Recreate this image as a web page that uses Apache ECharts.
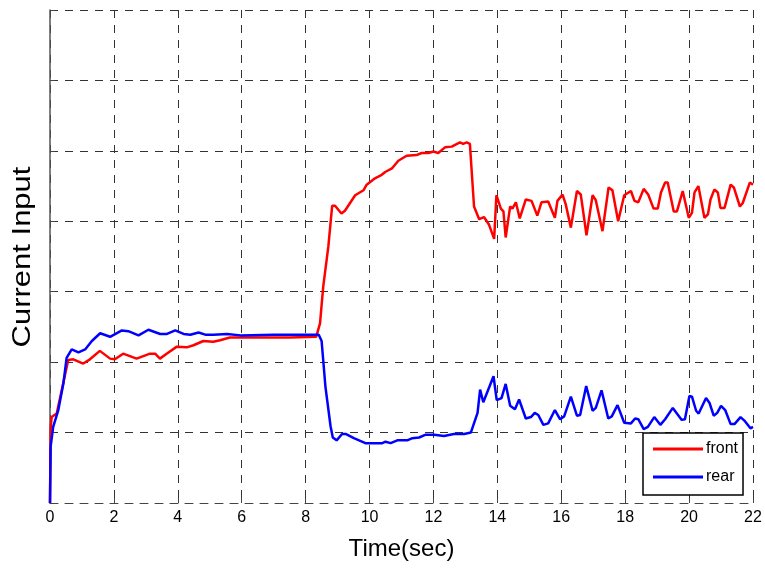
<!DOCTYPE html>
<html>
<head>
<meta charset="utf-8">
<script src="https://cdn.jsdelivr.net/npm/echarts@6/dist/echarts.min.js"></script>
<style>html,body{margin:0;padding:0;background:#fff}#c{width:765px;height:568px}</style>
</head>
<body>
<div id="c"></div>
<script>
const xTicks = [0, 2, 4, 6, 8, 10, 12, 14, 16, 18, 20, 22];
const seriesNames = ['front', 'rear'];
const yTitle = 'Current Input';
const xTitle = 'Time(sec)';

const frontT = [0, 0.02, 0.05, 0.21, 0.57, 0.73, 1.04, 1.25, 1.56, 1.88, 2.03, 2.29, 2.71, 3.13, 3.29, 3.44, 3.65, 3.97, 4.28, 4.49, 4.80, 5.11, 5.32, 5.63, 6.5, 7.5, 8.33, 8.45, 8.55, 8.71, 8.83, 8.92, 9.12, 9.23, 9.39, 9.55, 9.81, 9.91, 10.17, 10.38, 10.49, 10.70, 10.90, 11.16, 11.47, 11.63, 11.84, 12.00, 12.15, 12.36, 12.57, 12.83, 12.93, 13.04, 13.14, 13.27, 13.43, 13.58, 13.74, 13.90, 13.97, 14.11, 14.19, 14.26, 14.40, 14.47, 14.58, 14.70, 14.89, 15.07, 15.25, 15.38, 15.59, 15.80, 15.88, 16.04, 16.14, 16.30, 16.49, 16.61, 16.79, 16.98, 17.08, 17.29, 17.48, 17.60, 17.78, 17.97, 18.18, 18.29, 18.41, 18.58, 18.72, 18.89, 19.02, 19.12, 19.25, 19.33, 19.52, 19.62, 19.80, 19.99, 20.09, 20.17, 20.29, 20.48, 20.59, 20.67, 20.79, 20.90, 20.98, 21.11, 21.30, 21.40, 21.59, 21.68, 21.90, 22.00];
const frontV = [0, 1.05, 1.22, 1.27, 2.03, 2.04, 1.98, 2.04, 2.16, 2.05, 2.04, 2.12, 2.05, 2.12, 2.12, 2.05, 2.12, 2.22, 2.21, 2.24, 2.30, 2.29, 2.31, 2.35, 2.35, 2.35, 2.36, 2.55, 3.07, 3.64, 4.22, 4.22, 4.11, 4.15, 4.26, 4.37, 4.44, 4.52, 4.61, 4.66, 4.70, 4.75, 4.86, 4.93, 4.94, 4.97, 4.97, 4.99, 4.97, 5.05, 5.06, 5.12, 5.10, 5.12, 5.10, 4.21, 4.03, 4.06, 3.95, 3.75, 4.37, 4.18, 4.14, 3.77, 4.21, 4.18, 4.27, 4.04, 4.31, 4.29, 4.08, 4.27, 4.28, 4.05, 4.29, 4.38, 4.24, 3.91, 4.43, 4.38, 3.80, 4.37, 4.30, 3.86, 4.48, 4.44, 4.00, 4.37, 4.43, 4.29, 4.27, 4.46, 4.38, 4.18, 4.18, 4.41, 4.55, 4.55, 4.14, 4.14, 4.43, 4.05, 4.12, 4.41, 4.50, 4.05, 4.10, 4.31, 4.45, 4.41, 4.19, 4.19, 4.52, 4.48, 4.21, 4.26, 4.55, 4.52];

const rearT = [0, 0.02, 0.10, 0.26, 0.42, 0.52, 0.68, 0.89, 1.10, 1.31, 1.57, 1.88, 2.25, 2.45, 2.77, 3.08, 3.45, 3.66, 3.92, 4.18, 4.39, 4.65, 4.86, 5.12, 5.54, 5.96, 7.0, 8.41, 8.50, 8.62, 8.78, 8.85, 8.97, 9.14, 9.25, 9.51, 9.87, 10.40, 10.50, 10.66, 10.87, 11.18, 11.34, 11.55, 11.76, 12.02, 12.33, 12.64, 12.96, 13.17, 13.38, 13.46, 13.56, 13.88, 13.98, 14.13, 14.26, 14.40, 14.55, 14.68, 14.89, 15.05, 15.17, 15.28, 15.44, 15.59, 15.80, 15.96, 16.09, 16.30, 16.49, 16.59, 16.78, 16.98, 17.08, 17.26, 17.47, 17.58, 17.76, 17.97, 18.18, 18.31, 18.41, 18.58, 18.71, 18.91, 19.10, 19.25, 19.49, 19.77, 19.87, 20.01, 20.09, 20.22, 20.30, 20.53, 20.64, 20.77, 20.88, 21.00, 21.13, 21.30, 21.42, 21.61, 21.73, 21.92, 22.00];
const rearV = [0, 0.80, 1.08, 1.32, 1.70, 2.06, 2.18, 2.14, 2.18, 2.30, 2.41, 2.36, 2.45, 2.44, 2.38, 2.46, 2.40, 2.40, 2.45, 2.40, 2.39, 2.42, 2.39, 2.39, 2.40, 2.38, 2.39, 2.39, 2.30, 1.65, 1.09, 0.93, 0.89, 0.98, 0.98, 0.92, 0.85, 0.85, 0.87, 0.85, 0.89, 0.89, 0.92, 0.93, 0.97, 0.97, 0.95, 0.98, 0.98, 1.00, 1.28, 1.61, 1.43, 1.80, 1.46, 1.49, 1.69, 1.38, 1.33, 1.47, 1.20, 1.22, 1.28, 1.25, 1.11, 1.13, 1.32, 1.19, 1.23, 1.51, 1.24, 1.25, 1.66, 1.31, 1.35, 1.60, 1.20, 1.23, 1.39, 1.14, 1.13, 1.20, 1.19, 1.05, 1.08, 1.22, 1.11, 1.19, 1.35, 1.18, 1.19, 1.52, 1.51, 1.31, 1.27, 1.49, 1.42, 1.24, 1.28, 1.38, 1.32, 1.12, 1.12, 1.22, 1.17, 1.06, 1.08];

const zip = (t, v) => t.map((x, i) => [x, v[i]]);
const FONT = "'Liberation Sans', Arial, sans-serif";
const gridLine = { show: true, lineStyle: { color: '#333', width: 1, type: [8, 7] } };

const chart = echarts.init(document.getElementById('c'), null, { renderer: 'canvas' });
chart.setOption({
  animation: false,
  backgroundColor: '#fff',
  grid: { left: 50, right: 12, top: 10, bottom: 65, containLabel: false },
  legend: {
    data: seriesNames,
    left: 643, top: 433,
    orient: 'vertical',
    icon: 'rect',
    backgroundColor: '#fff',
    borderColor: '#000', borderWidth: 1.5, borderRadius: 0,
    padding: [8, 5, 10, 10],
    itemWidth: 50, itemHeight: 3, itemGap: 12,
    textStyle: { fontFamily: FONT, fontSize: 16, lineHeight: 16, color: '#000', padding: [0, 0, 0, -2] }
  },
  graphic: [{
    type: 'text',
    x: 23, y: 257,
    rotation: Math.PI / 2,
    scaleX: 1.24,
    style: { text: yTitle, font: "25px 'Liberation Sans', Arial, sans-serif", fill: '#000', align: 'center', verticalAlign: 'middle' }
  }],
  xAxis: {
    type: 'value', min: 0, max: 22, interval: 2,
    name: xTitle, nameLocation: 'middle', nameGap: 34,
    nameTextStyle: { fontFamily: FONT, fontSize: 24, color: '#000' },
    axisLine: { show: true, lineStyle: { color: '#444', width: 1, type: [8, 7] } },
    axisTick: { show: true, inside: true, length: 5, lineStyle: { color: '#444' } },
    axisLabel: { fontFamily: FONT, fontSize: 16, color: '#000', margin: 7,
      formatter: v => xTicks.includes(v) ? String(v) : '' },
    splitLine: gridLine
  },
  yAxis: {
    type: 'value', min: 0, max: 7, interval: 1,
    axisLine: { show: true, lineStyle: { color: '#555', width: 1.5 } },
    axisTick: { show: true, inside: true, length: 5, lineStyle: { color: '#444' } },
    axisLabel: { show: false },
    splitLine: gridLine
  },
  series: [
    { name: seriesNames[0], type: 'line', data: zip(frontT, frontV), symbol: 'none',
      lineStyle: { color: '#ff0000', width: 2.5 }, itemStyle: { color: '#ff0000' }, z: 3 },
    { name: seriesNames[1], type: 'line', data: zip(rearT, rearV), symbol: 'none',
      lineStyle: { color: '#0000ff', width: 2.5 }, itemStyle: { color: '#0000ff' }, z: 4 }
  ]
});
</script>
</body>
</html>
